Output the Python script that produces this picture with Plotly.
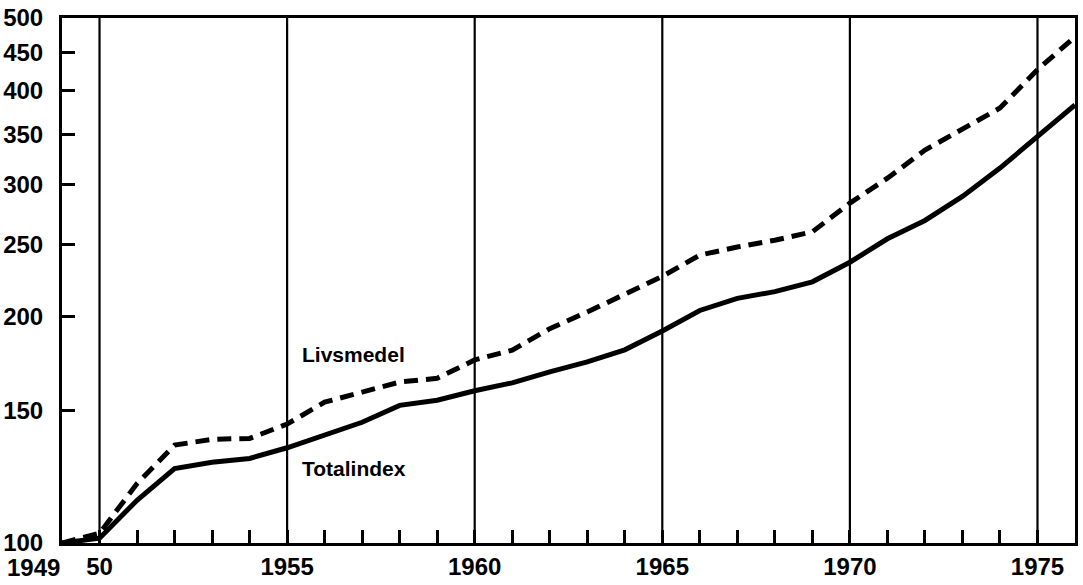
import math
import plotly.graph_objects as go

years = list(range(1949, 1977))
totalindex = [100, 101.5, 114, 125.6, 128.1, 129.6, 133.9, 139, 144.8, 152.5,
              154.9, 159.5, 163.4, 169, 174.2, 180.8, 191.5, 204, 211.7, 216.1,
              222.7, 236.5, 254.1, 268.8, 289.3, 315.6, 347, 383]
livsmedel = [100, 103, 120, 135, 137.4, 137.8, 144, 154, 158.8, 163.8,
             165.7, 175.3, 180.6, 192.9, 203, 214.7, 226.5, 241.7, 247.8, 253,
             259.6, 283.5, 306, 333.5, 356.3, 379.4, 426.7, 472]

y_ticks = [100, 150, 200, 250, 300, 350, 400, 450, 500]
x_label_years = [1950, 1955, 1960, 1965, 1970, 1975]
x_label_text = ["50", "1955", "1960", "1965", "1970", "1975"]
grid_years = [1950, 1955, 1960, 1965, 1970, 1975]

FONT = "Liberation Sans, Arial, sans-serif"

fig = go.Figure()
fig.add_trace(go.Scatter(x=years, y=livsmedel, mode="lines", name="Livsmedel",
                         line=dict(color="black", width=5, dash="14px,8px")))
fig.add_trace(go.Scatter(x=years, y=totalindex, mode="lines", name="Totalindex",
                         line=dict(color="black", width=5)))

for g in grid_years:
    fig.add_shape(type="line", xref="x", yref="paper", x0=g, x1=g, y0=0, y1=1,
                  line=dict(color="black", width=2.2), layer="below")

tick_text = []
for yv in years:
    if yv in x_label_years:
        tick_text.append("<b>" + x_label_text[x_label_years.index(yv)] + "</b>")
    else:
        tick_text.append("")

fig.update_xaxes(range=[1949, 1976], tickvals=years, ticktext=tick_text,
                 ticks="inside", ticklen=13, tickwidth=2.5, tickcolor="black",
                 showgrid=False, zeroline=False, showline=True, mirror=True,
                 linecolor="black", linewidth=3, automargin=False,
                 tickfont=dict(family=FONT, size=24, color="black"))
fig.update_yaxes(type="log", range=[2, math.log10(500)], tickvals=y_ticks,
                 ticktext=["<b>%d</b>" % v for v in y_ticks],
                 ticks="inside", ticklen=13, tickwidth=2.5, tickcolor="black",
                 showgrid=False, zeroline=False, showline=True, mirror=True,
                 linecolor="black", linewidth=3, automargin=False,
                 ticklabelstandoff=11,
                 tickfont=dict(family=FONT, size=24, color="black"))

fig.add_annotation(x=1949, y=0, xref="x", yref="paper", text="<b>1949</b>",
                   showarrow=False, xanchor="right", yanchor="top", yshift=-9,
                   font=dict(family=FONT, size=24, color="black"))
fig.add_annotation(x=1955.34, y=math.log10(178.4), xref="x", yref="y",
                   text="<b>Livsmedel</b>", showarrow=False, xanchor="left", yanchor="middle",
                   font=dict(family=FONT, size=21, color="black"))
fig.add_annotation(x=1955.34, y=math.log10(125.7), xref="x", yref="y",
                   text="<b>Totalindex</b>", showarrow=False, xanchor="left", yanchor="middle",
                   font=dict(family=FONT, size=21, color="black"))

fig.update_layout(width=1083, height=585, showlegend=False,
                  margin=dict(l=62, r=8, t=18, b=42, autoexpand=False),
                  paper_bgcolor="white", plot_bgcolor="white",
                  font=dict(family=FONT, color="black"))

fig.write_html("out.html", config={"displayModeBar": False},
               post_script="document.body.style.margin='0px';"
                           "document.body.style.overflow='hidden';")
